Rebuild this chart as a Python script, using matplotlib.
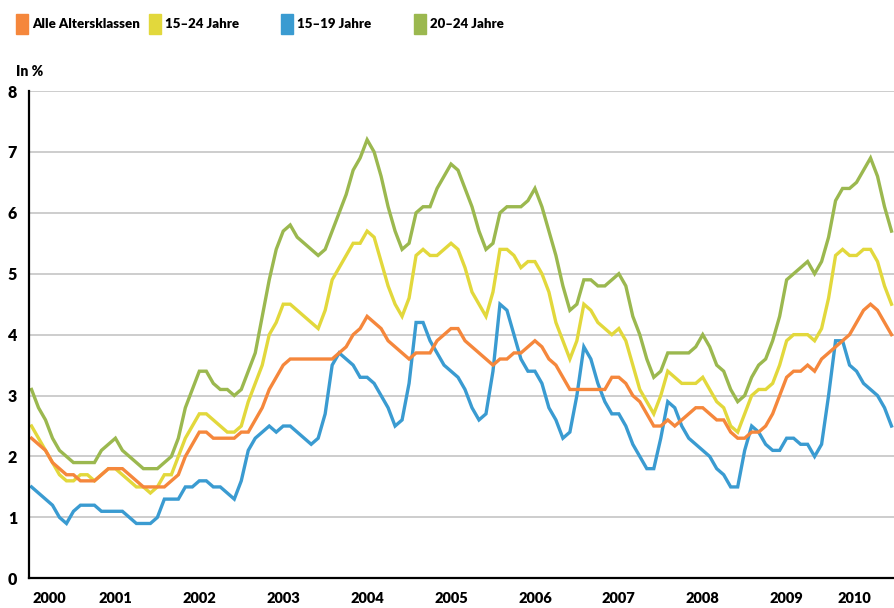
import matplotlib
matplotlib.use("Agg")
import matplotlib.pyplot as plt
from matplotlib.patches import Rectangle

#Monthly values, Jan 2000 - Apr 2010 (in %)
alle_altersklassen = [
    2.3, 2.2, 2.1, 1.9, 1.8, 1.7, 1.7, 1.6, 1.6, 1.6, 1.7, 1.8,
    1.8, 1.8, 1.7, 1.6, 1.5, 1.5, 1.5, 1.5, 1.6, 1.7, 2.0, 2.2,
    2.4, 2.4, 2.3, 2.3, 2.3, 2.3, 2.4, 2.4, 2.6, 2.8, 3.1, 3.3,
    3.5, 3.6, 3.6, 3.6, 3.6, 3.6, 3.6, 3.6, 3.7, 3.8, 4.0, 4.1,
    4.3, 4.2, 4.1, 3.9, 3.8, 3.7, 3.6, 3.7, 3.7, 3.7, 3.9, 4.0,
    4.1, 4.1, 3.9, 3.8, 3.7, 3.6, 3.5, 3.6, 3.6, 3.7, 3.7, 3.8,
    3.9, 3.8, 3.6, 3.5, 3.3, 3.1, 3.1, 3.1, 3.1, 3.1, 3.1, 3.3,
    3.3, 3.2, 3.0, 2.9, 2.7, 2.5, 2.5, 2.6, 2.5, 2.6, 2.7, 2.8,
    2.8, 2.7, 2.6, 2.6, 2.4, 2.3, 2.3, 2.4, 2.4, 2.5, 2.7, 3.0,
    3.3, 3.4, 3.4, 3.5, 3.4, 3.6, 3.7, 3.8, 3.9, 4.0, 4.2, 4.4,
    4.5, 4.4, 4.2, 4.0,
]

jahre_15_24 = [
    2.5, 2.3, 2.1, 1.9, 1.7, 1.6, 1.6, 1.7, 1.7, 1.6, 1.7, 1.8,
    1.8, 1.7, 1.6, 1.5, 1.5, 1.4, 1.5, 1.7, 1.7, 2.0, 2.3, 2.5,
    2.7, 2.7, 2.6, 2.5, 2.4, 2.4, 2.5, 2.9, 3.2, 3.5, 4.0, 4.2,
    4.5, 4.5, 4.4, 4.3, 4.2, 4.1, 4.4, 4.9, 5.1, 5.3, 5.5, 5.5,
    5.7, 5.6, 5.2, 4.8, 4.5, 4.3, 4.6, 5.3, 5.4, 5.3, 5.3, 5.4,
    5.5, 5.4, 5.1, 4.7, 4.5, 4.3, 4.7, 5.4, 5.4, 5.3, 5.1, 5.2,
    5.2, 5.0, 4.7, 4.2, 3.9, 3.6, 3.9, 4.5, 4.4, 4.2, 4.1, 4.0,
    4.1, 3.9, 3.5, 3.1, 2.9, 2.7, 3.0, 3.4, 3.3, 3.2, 3.2, 3.2,
    3.3, 3.1, 2.9, 2.8, 2.5, 2.4, 2.7, 3.0, 3.1, 3.1, 3.2, 3.5,
    3.9, 4.0, 4.0, 4.0, 3.9, 4.1, 4.6, 5.3, 5.4, 5.3, 5.3, 5.4,
    5.4, 5.2, 4.8, 4.5,
]

jahre_15_19 = [
    1.5, 1.4, 1.3, 1.2, 1.0, 0.9, 1.1, 1.2, 1.2, 1.2, 1.1, 1.1,
    1.1, 1.1, 1.0, 0.9, 0.9, 0.9, 1.0, 1.3, 1.3, 1.3, 1.5, 1.5,
    1.6, 1.6, 1.5, 1.5, 1.4, 1.3, 1.6, 2.1, 2.3, 2.4, 2.5, 2.4,
    2.5, 2.5, 2.4, 2.3, 2.2, 2.3, 2.7, 3.5, 3.7, 3.6, 3.5, 3.3,
    3.3, 3.2, 3.0, 2.8, 2.5, 2.6, 3.2, 4.2, 4.2, 3.9, 3.7, 3.5,
    3.4, 3.3, 3.1, 2.8, 2.6, 2.7, 3.4, 4.5, 4.4, 4.0, 3.6, 3.4,
    3.4, 3.2, 2.8, 2.6, 2.3, 2.4, 3.0, 3.8, 3.6, 3.2, 2.9, 2.7,
    2.7, 2.5, 2.2, 2.0, 1.8, 1.8, 2.3, 2.9, 2.8, 2.5, 2.3, 2.2,
    2.1, 2.0, 1.8, 1.7, 1.5, 1.5, 2.1, 2.5, 2.4, 2.2, 2.1, 2.1,
    2.3, 2.3, 2.2, 2.2, 2.0, 2.2, 3.0, 3.9, 3.9, 3.5, 3.4, 3.2,
    3.1, 3.0, 2.8, 2.5,
]

jahre_20_24 = [
    3.1, 2.8, 2.6, 2.3, 2.1, 2.0, 1.9, 1.9, 1.9, 1.9, 2.1, 2.2,
    2.3, 2.1, 2.0, 1.9, 1.8, 1.8, 1.8, 1.9, 2.0, 2.3, 2.8, 3.1,
    3.4, 3.4, 3.2, 3.1, 3.1, 3.0, 3.1, 3.4, 3.7, 4.3, 4.9, 5.4,
    5.7, 5.8, 5.6, 5.5, 5.4, 5.3, 5.4, 5.7, 6.0, 6.3, 6.7, 6.9,
    7.2, 7.0, 6.6, 6.1, 5.7, 5.4, 5.5, 6.0, 6.1, 6.1, 6.4, 6.6,
    6.8, 6.7, 6.4, 6.1, 5.7, 5.4, 5.5, 6.0, 6.1, 6.1, 6.1, 6.2,
    6.4, 6.1, 5.7, 5.3, 4.8, 4.4, 4.5, 4.9, 4.9, 4.8, 4.8, 4.9,
    5.0, 4.8, 4.3, 4.0, 3.6, 3.3, 3.4, 3.7, 3.7, 3.7, 3.7, 3.8,
    4.0, 3.8, 3.5, 3.4, 3.1, 2.9, 3.0, 3.3, 3.5, 3.6, 3.9, 4.3,
    4.9, 5.0, 5.1, 5.2, 5.0, 5.2, 5.6, 6.2, 6.4, 6.4, 6.5, 6.7,
    6.9, 6.6, 6.1, 5.7,
]

series_labels = ["Alle Altersklassen", "15–24 Jahre", "15–19 Jahre", "20–24 Jahre"]
series_colors = ["#f5873c", "#e2d83c", "#3a9bd1", "#9bb84f"]

year_labels = ["2000", "2001", "2002", "2003", "2004", "2005",
               "2006", "2007", "2008", "2009", "2010"]

FONT = ["Lato", "DejaVu Sans"]


def draw_chart():
    fig = plt.figure(figsize=(8.95, 6.08), dpi=100)
    W, H = 895, 608

    #Axes placed in pixel terms
    left, right, bottom, top = 29, 895, 608 - 578.3, 608 - 91
    ax = fig.add_axes([left / W, bottom / H, (right - left) / W, (top - bottom) / H])

    months = list(range(len(alle_altersklassen)))
    data = [alle_altersklassen, jahre_15_24, jahre_15_19, jahre_20_24]

    #Draw the lines, orange on top
    for values, color, z in zip(data, series_colors, [5, 4, 3, 2]):
        ax.plot(months, values, color=color, linewidth=2.4, zorder=z,
                solid_joinstyle="miter")

    ax.set_xlim(-0.36, 123.5)
    ax.set_ylim(0, 8)

    #Grid and spines
    for v in range(1, 9):
        ax.axhline(v, color="#c9c9c9", linewidth=1.3, zorder=1)
    for side in ["top", "right"]:
        ax.spines[side].set_visible(False)
    for side in ["left", "bottom"]:
        ax.spines[side].set_color("black")
        ax.spines[side].set_linewidth(1.6)
        ax.spines[side].set_zorder(6)

    #Ticks
    ax.set_yticks(range(0, 9))
    ax.set_yticklabels([str(v) for v in range(0, 9)])
    xticks = [2.5] + [12 * k for k in range(1, 10)] + [117.7]
    ax.set_xticks(xticks)
    ax.set_xticklabels(year_labels)
    ax.tick_params(axis="y", length=0, pad=8.5)
    ax.tick_params(axis="x", length=0, pad=10)
    for lab in ax.get_yticklabels():
        lab.set_family(FONT)
        lab.set_fontweight("heavy")
        lab.set_fontsize(11.5)
    for lab in ax.get_xticklabels():
        lab.set_family(FONT)
        lab.set_fontweight("heavy")
        lab.set_fontsize(10.5)
    ax.patch.set_alpha(0)

    #Unit label
    fig.text(16 / W, 1 - 71 / H, "In %", family=FONT, fontweight="heavy",
             fontsize=10, ha="left", va="center")

    #Legend drawn by hand
    legend_x = [16, 149, 281, 414]
    for x, label, color in zip(legend_x, series_labels, series_colors):
        fig.patches.append(Rectangle((x / W, 1 - 34 / H), 12 / W, 20 / H,
                                     transform=fig.transFigure, color=color))
        fig.text((x + 16) / W, 1 - 24 / H, label, family=FONT,
                 fontweight="heavy", fontsize=9.5, ha="left", va="center")

    fig.savefig("out.png", dpi=100)


if __name__ == "__main__":
    draw_chart()
